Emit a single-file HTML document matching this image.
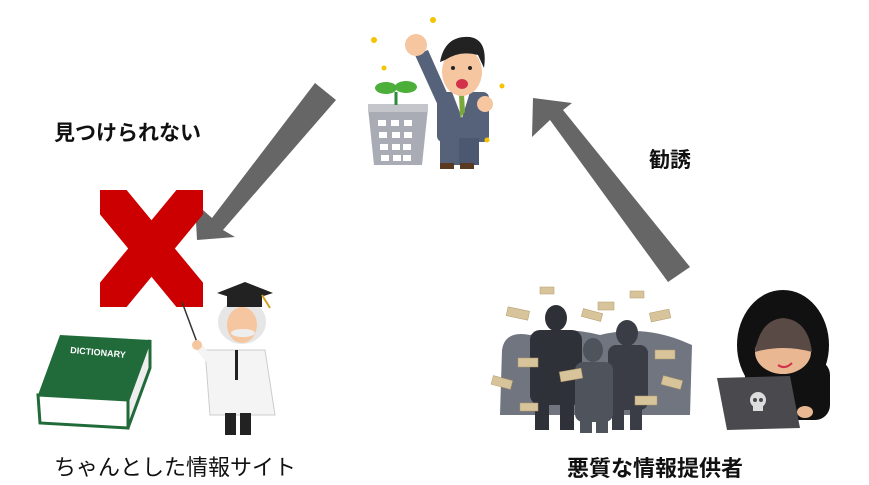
<!DOCTYPE html>
<html><head><meta charset="utf-8"><style>
html,body{margin:0;padding:0;background:#fff;}
body{width:869px;height:485px;position:relative;overflow:hidden;font-family:"Liberation Sans","Noto Sans CJK JP",sans-serif;}
.t{position:absolute;font-weight:bold;color:#111;white-space:nowrap;line-height:1;}
svg{position:absolute;left:0;top:0;}
</style></head><body>
<svg width="869" height="485" viewBox="0 0 869 485">
<defs><clipPath id="xc"><rect x="100" y="190" width="103" height="117"/></clipPath></defs>
<polygon points="315,83 336,100 223,230 235,237 197,240 195,203 212,218" fill="#666"/>
<polygon points="690,267 668,282 550,120 532,137 533,98 572,103 563,110" fill="#666"/>
<g clip-path="url(#xc)" stroke="#cc0000" stroke-width="36">
<line x1="95" y1="180" x2="208" y2="317"/><line x1="208" y1="180" x2="95" y2="317"/>
</g>
<g>
<polygon points="368,108 428,108 422,165 374,165" fill="#a9acb4"/>
<polygon points="368,104 428,104 428,112 368,112" fill="#c4c6cc"/>
<g fill="#fff"><rect x="378" y="120" width="8" height="6"/><rect x="391" y="120" width="8" height="6"/><rect x="404" y="120" width="8" height="6"/><rect x="379" y="132" width="8" height="6"/><rect x="392" y="132" width="8" height="6"/><rect x="404" y="132" width="8" height="6"/><rect x="380" y="144" width="8" height="6"/><rect x="392" y="144" width="8" height="6"/><rect x="403" y="144" width="8" height="6"/><rect x="381" y="155" width="8" height="6"/><rect x="393" y="155" width="8" height="6"/><rect x="403" y="155" width="8" height="6"/></g>
<line x1="396" y1="105" x2="396" y2="92" stroke="#2e8b3a" stroke-width="3"/>
<ellipse cx="386" cy="88" rx="11" ry="6" fill="#4caf3a"/><ellipse cx="406" cy="87" rx="11" ry="6" fill="#4caf3a"/>
<polygon points="415,55 428,50 448,95 440,110" fill="#56627a"/>
<circle cx="416" cy="45" r="11" fill="#f6c6a0"/>
<rect x="437" y="92" width="52" height="50" rx="6" fill="#56627a"/>
<rect x="440" y="138" width="20" height="27" fill="#56627a"/><rect x="459" y="138" width="20" height="27" fill="#4c5770"/>
<rect x="440" y="163" width="14" height="6" fill="#5a3a20"/><rect x="460" y="163" width="14" height="6" fill="#5a3a20"/>
<polygon points="452,92 470,92 462,118" fill="#fff"/><polygon points="459,94 464,94 465,112 460,118" fill="#7aa83a"/>
<circle cx="485" cy="104" r="8" fill="#f6c6a0"/>
<ellipse cx="462" cy="72" rx="20" ry="24" fill="#f6c6a0"/>
<path d="M440,62 Q445,35 470,37 Q488,40 484,68 L478,55 Q460,50 445,60 Z" fill="#222"/>
<ellipse cx="462" cy="84" rx="6" ry="5" fill="#d2334a"/>
<circle cx="453" cy="68" r="2" fill="#222"/><circle cx="470" cy="68" r="2" fill="#222"/>
<g fill="#f5c400"><circle cx="374" cy="40" r="3"/><circle cx="433" cy="20" r="3"/><circle cx="384" cy="68" r="2.5"/><circle cx="502" cy="86" r="2.5"/><circle cx="487" cy="140" r="2.5"/></g>
</g>
<g>
<polygon points="38,395 60,335 150,340 128,400" fill="#216b3a"/>
<polygon points="38,395 128,400 128,428 40,423" fill="#fff" stroke="#216b3a" stroke-width="3"/>
<polygon points="128,400 150,340 150,368 128,428" fill="#eee" stroke="#216b3a" stroke-width="3"/>
<text x="70" y="353" font-size="9" font-weight="bold" fill="#fff" font-family="Liberation Sans,sans-serif" transform="rotate(5 70 353)">DICTIONARY</text>
</g>
<g>
<line x1="182" y1="302" x2="198" y2="345" stroke="#333" stroke-width="1.5"/>
<polygon points="205,350 265,350 275,415 210,415" fill="#f4f4f4" stroke="#ccc"/>
<line x1="197" y1="345" x2="210" y2="360" stroke="#f4f4f4" stroke-width="8"/>
<circle cx="197" cy="345" r="5" fill="#f6c6a0"/>
<rect x="235" y="350" width="3" height="30" fill="#222"/>
<rect x="225" y="413" width="11" height="22" fill="#222"/><rect x="240" y="413" width="11" height="22" fill="#222"/>
<ellipse cx="242" cy="322" rx="24" ry="22" fill="#e6e6e6"/>
<ellipse cx="242" cy="325" rx="15" ry="18" fill="#f6c6a0"/>
<ellipse cx="243" cy="333" rx="12" ry="4" fill="#eee"/>
<polygon points="217,293 245,282 273,293 245,302" fill="#222"/>
<rect x="227" y="293" width="35" height="14" fill="#222"/>
<line x1="262" y1="295" x2="270" y2="308" stroke="#d4a020" stroke-width="2"/>
</g>
<g>
<path d="M502,350 Q505,330 530,335 Q560,325 600,335 Q640,325 680,340 L692,345 L690,415 L500,415 Z" fill="#707580"/>
<ellipse cx="556" cy="318" rx="11" ry="13" fill="#2e3038"/>
<rect x="530" y="330" width="52" height="75" rx="10" fill="#2f3139"/>
<rect x="535" y="400" width="14" height="30" fill="#2f3139"/><rect x="560" y="400" width="14" height="30" fill="#2f3139"/>
<ellipse cx="627" cy="333" rx="11" ry="13" fill="#3a3d46"/>
<rect x="608" y="345" width="40" height="65" rx="8" fill="#3a3d46"/>
<rect x="612" y="405" width="12" height="25" fill="#3a3d46"/><rect x="630" y="405" width="12" height="25" fill="#3a3d46"/>
<ellipse cx="593" cy="350" rx="10" ry="12" fill="#4f535c"/>
<rect x="575" y="362" width="38" height="60" rx="8" fill="#4f535c"/>
<rect x="580" y="418" width="12" height="15" fill="#4f535c"/><rect x="596" y="418" width="12" height="15" fill="#4f535c"/>
<g fill="#d7c49a" stroke="#b29a6a" stroke-width="0.5">
<rect x="540" y="287" width="14" height="7"/><rect x="507" y="309" width="22" height="9" transform="rotate(12 518 313)"/><rect x="598" y="302" width="16" height="8"/><rect x="630" y="291" width="14" height="7"/><rect x="650" y="311" width="20" height="9" transform="rotate(-12 660 315)"/><rect x="582" y="311" width="20" height="8" transform="rotate(15 592 315)"/><rect x="518" y="358" width="20" height="9"/><rect x="560" y="370" width="22" height="10" transform="rotate(-10 571 375)"/><rect x="492" y="378" width="20" height="9" transform="rotate(15 502 382)"/><rect x="655" y="350" width="20" height="9"/><rect x="662" y="378" width="20" height="9" transform="rotate(15 672 382)"/><rect x="635" y="396" width="22" height="9"/><rect x="520" y="403" width="18" height="8"/></g>
</g>
<g>
<ellipse cx="783" cy="345" rx="46" ry="55" fill="#111"/>
<rect x="745" y="360" width="85" height="60" rx="15" fill="#111"/>
<ellipse cx="783" cy="352" rx="28" ry="22" fill="#e9b893"/>
<path d="M755,352 Q760,320 783,318 Q808,320 812,352 Q783,344 755,352 Z" fill="#5a4a45"/>
<path d="M778,365 Q785,370 792,363" stroke="#d2334a" stroke-width="2" fill="none"/>
<polygon points="717,378 790,376 800,428 727,430" fill="#4a4a4e"/>
<circle cx="758" cy="400" r="8" fill="#ddd"/><rect x="753" y="405" width="10" height="6" fill="#ddd"/>
<circle cx="755" cy="400" r="2" fill="#4a4a4e"/><circle cx="761" cy="400" r="2" fill="#4a4a4e"/>
<ellipse cx="805" cy="412" rx="8" ry="6" fill="#e9b893"/>
</g>
</svg>
<div class="t" style="left:54px;top:123px;font-size:21px;">見つけられない</div>
<div class="t" style="left:649px;top:150px;font-size:21px;">勧誘</div>
<div class="t" style="left:54px;top:457px;font-size:22px;font-weight:normal;">ちゃんとした情報サイト</div>
<div class="t" style="left:567px;top:458px;font-size:22px;">悪質な情報提供者</div>
</body></html>
